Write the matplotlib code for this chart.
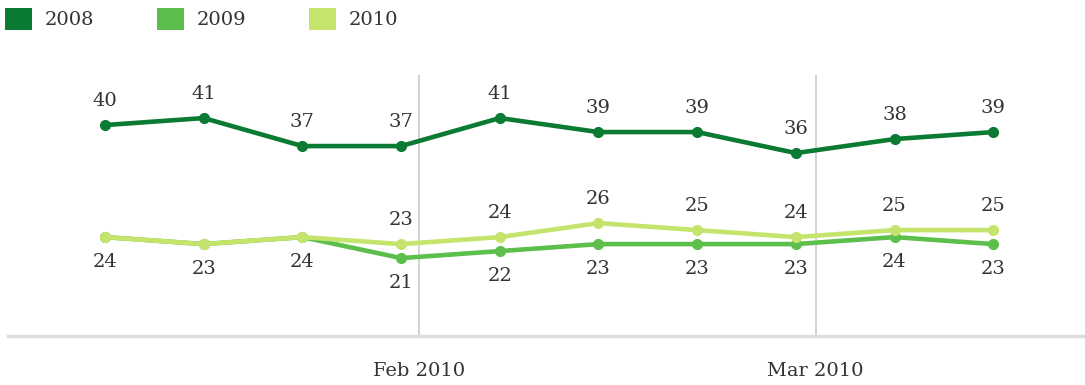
import matplotlib.pyplot as plt
from matplotlib.patches import Patch

plt.rcParams['font.family'] = ['DejaVu Serif']

series_names = ['2008', '2009', '2010']
values_2008 = [40, 41, 37, 37, 41, 39, 39, 36, 38, 39]
values_2009 = [24, 23, 24, 21, 22, 23, 23, 23, 24, 23]
values_2010 = [24, 23, 24, 23, 24, 26, 25, 24, 25, 25]
month_labels = ['Feb 2010', 'Mar 2010']
month_positions = [3.18, 7.2]

colors = {'2008': '#0b7a32', '2009': '#5cbf4b', '2010': '#c4e46c'}
text_color = '#333333'
fs = 14

fig = plt.figure(figsize=(10.85, 3.85), dpi=100)
ax = fig.add_axes([8 / 1085, 0.127, 1 - 8 / 1085, 0.678])

x = list(range(len(values_2008)))

for pos in month_positions:
    ax.axvline(pos, color='#cccccc', lw=1.2, zorder=0)

for name, vals in zip(series_names, [values_2008, values_2009, values_2010]):
    ax.plot(x, vals, color=colors[name], lw=3.3, marker='o', ms=7,
            solid_joinstyle='round', zorder=2)

# 2008 labels sit above the line
for xi, v in zip(x, values_2008):
    ax.annotate(str(v), (xi, v), xytext=(0, 17), textcoords='offset points',
                ha='center', va='center', fontsize=fs, color=text_color)

# 2009 labels below; 2010 labels above wherever the two lines split
for xi, v9, v10 in zip(x, values_2009, values_2010):
    ax.annotate(str(v9), (xi, v9), xytext=(0, -18), textcoords='offset points',
                ha='center', va='center', fontsize=fs, color=text_color)
    if v10 != v9:
        ax.annotate(str(v10), (xi, v10), xytext=(0, 17), textcoords='offset points',
                    ha='center', va='center', fontsize=fs, color=text_color)

ax.set_xlim(-0.983, 9.93)
ax.set_ylim(9.86, 47.14)
ax.set_xticks(month_positions)
ax.set_xticklabels(month_labels, fontsize=fs, color=text_color)
ax.tick_params(axis='x', length=0, pad=19)
ax.set_yticks([])
for side in ['top', 'left', 'right']:
    ax.spines[side].set_visible(False)
ax.spines['bottom'].set_color('#dddddd')
ax.spines['bottom'].set_linewidth(2.5)

handles = [Patch(facecolor=colors[n], edgecolor='none', label=n) for n in series_names]
fig.legend(handles=handles, loc='upper left', bbox_to_anchor=(5 / 1085, 1 - 8 / 385),
           ncol=3, frameon=False, fontsize=fs, handlelength=1.39, handleheight=1.35,
           handletextpad=0.67, columnspacing=3.2, borderpad=0, borderaxespad=0,
           labelcolor=text_color)

fig.savefig('out.png', dpi=100)
